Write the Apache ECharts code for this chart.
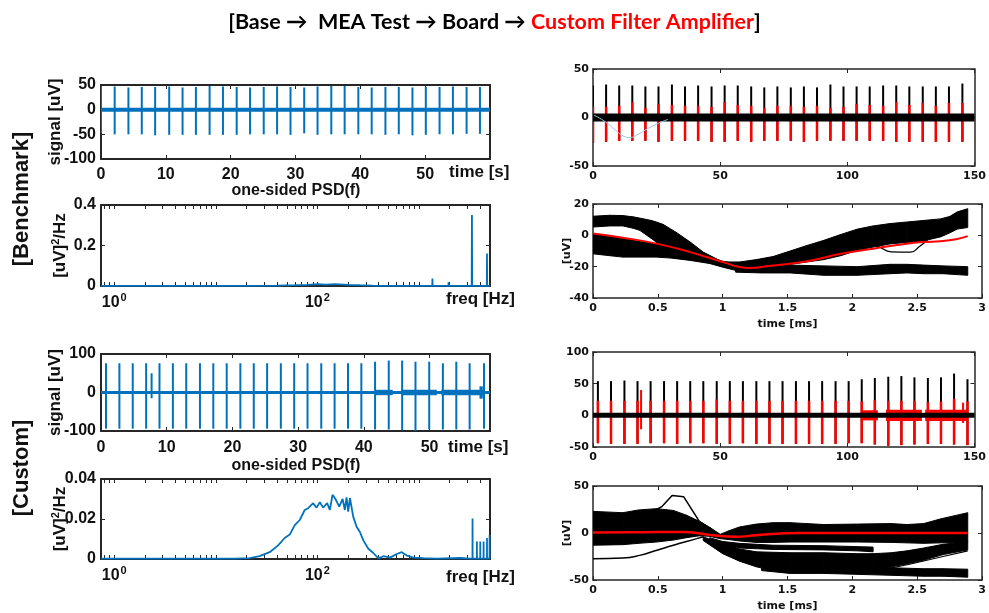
<!DOCTYPE html>
<html>
<head>
<meta charset="utf-8">
<script src="https://cdn.jsdelivr.net/npm/echarts@6.0.0/dist/echarts.min.js"></script>
<style>
  html, body { margin: 0; padding: 0; background: #fff; }
  #chart { width: 989px; height: 613px; }
</style>
</head>
<body>
<div id="chart"></div>
<script>
// ---------- left column: raw signal [uV] ----------
var benchSpan = [0, 60];
var benchSpikeT = [0, 2.11, 4.23, 6.29, 8.35, 10.52, 12.58, 14.64, 16.75, 18.81, 20.93, 22.99, 25.1, 27.16, 29.23,
  31.34, 33.4, 35.52, 37.58, 39.69, 41.75, 43.87, 45.93, 48.04, 50.1, 52.22, 54.28, 56.39, 58.45];
var benchSpikeTop = [47, 47, 45, 46, 46, 47, 45, 46, 48, 47, 46, 45, 46, 47, 46,
  45, 47, 48, 48, 46, 45, 46, 46, 45, 46, 46, 47, 46, 46];
var benchSpikeBot = [-48, -50, -50, -50, -52, -51, -51, -51, -51, -51, -51, -50, -50, -50, -51,
  -48, -51, -50, -50, -50, -50, -51, -50, -52, -51, -50, -50, -49, -49];

var custSpan = [0, 59.2];
var custSpikeT = [0.76, 2.8, 4.83, 6.87, 7.7, 8.9, 10.94, 12.97, 15.06, 17.09, 19.13, 21.21, 23.25, 25.28, 27.37,
  29.4, 31.43, 33.52, 35.55, 37.59, 39.62, 41.71, 43.79, 45.83, 47.86, 49.95, 52.03, 54.07, 56.1, 58.29];
var custSpikeTop = [76, 76, 76, 76, 50, 76, 76, 76, 76, 76, 76, 76, 76, 76, 76,
  76, 76, 76, 76, 76, 76, 80, 83, 83, 80, 80, 76, 80, 76, 76];
var custSpikeBot = [-94, -94, -94, -94, -15, -94, -94, -94, -94, -94, -94, -94, -94, -94, -94,
  -94, -94, -94, -94, -94, -94, -96, -96, -98, -100, -96, -96, -96, -96, -94];
// noisy stretches: [start s, end s, half amplitude uV]
var custNoise = [[41.7, 44.4, 7], [45.7, 51.1, 7], [51.8, 58.2, 7], [57.6, 58.1, 16]];

// ---------- left column: one-sided PSD [uV^2/Hz] ----------
var psdBench = [[0.74, 0.0003], [2, 0.0003], [5, 0.0004], [10, 0.0005], [20, 0.001], [40, 0.002], [60, 0.004],
  [80, 0.006], [100, 0.009], [120, 0.007], [150, 0.009], [200, 0.006], [260, 0.004], [350, 0.002], [500, 0.001],
  [800, 0.0008], [1350, 0.0008], [1356, 0.037], [1362, 0.0008], [1950, 0.0008], [1955, 0.019], [1960, 0.0008],
  [2900, 0.001], [2905, 0.005], [2910, 0.001], [3300, 0.001], [3320, 0.35], [3340, 0.001], [3900, 0.001],
  [3905, 0.006], [3910, 0.001], [4650, 0.001], [4670, 0.16], [4690, 0.001], [5000, 0.001]];
var psdCust = [[0.74, 0.0002], [5, 0.0002], [15, 0.0002], [21.5, 0.0004], [27, 0.0014], [33.9, 0.0034], [41, 0.0068],
  [47.6, 0.0105], [53.4, 0.0122], [59.8, 0.0169], [67, 0.0195], [75, 0.0245], [81, 0.0254], [90.8, 0.0279],
  [98, 0.0257], [105.6, 0.0284], [113.8, 0.0257], [124.7, 0.0279], [132.5, 0.0245], [140.8, 0.0321], [152, 0.0296],
  [164, 0.0262], [177, 0.0301], [186, 0.0245], [193.6, 0.0308], [201, 0.0237], [209, 0.0305], [225, 0.0212],
  [243, 0.0161], [262, 0.0135], [283, 0.0093], [317, 0.0051], [355, 0.003], [398, 0.0003], [446, 0.0014],
  [519, 0.0007], [604, 0.0025], [676, 0.0034], [758, 0.0017], [881, 0.0007], [1106, 0.0004], [1500, 0.0002],
  [2546, 0.0005], [3200, 0.0002], [3360, 0.0002], [3366, 0.0203], [3372, 0.0002], [3710, 0.0002], [3715, 0.0088],
  [3720, 0.0002], [4005, 0.0002], [4010, 0.0088], [4015, 0.0002], [4320, 0.0002], [4325, 0.0088], [4330, 0.0002],
  [4665, 0.0002], [4670, 0.0105], [4675, 0.0002], [4950, 0.0002], [4955, 0.012], [4960, 0.0002], [5000, 0.0002]];
var logTicks = [0.8, 0.9, 1, 2, 3, 4, 5, 6, 7, 8, 9, 10, 20, 30, 40, 50, 60, 70, 80, 90, 100,
  200, 300, 400, 500, 600, 700, 800, 900, 1000, 2000, 3000, 4000, 5000];

// ---------- right column: detected spikes ----------
var rasSpan = [0, 150];
var rasBenchT = [0, 5.15, 10.3, 15.45, 20.6, 25.75, 31.03, 36.18, 41.33, 46.61, 51.76, 56.91, 62.19, 67.34, 72.49,
  77.77, 82.92, 88.07, 93.34, 98.49, 103.64, 108.79, 114.07, 119.22, 124.37, 129.65, 134.8, 139.95, 145.23];
var rasBenchBlackTop = [33, 34, 33, 33, 32, 32, 34, 32, 33, 32, 33, 33, 32, 31, 32,
  31, 32, 31, 34, 32, 32, 32, 33, 33, 32, 32, 32, 32, 35];
var rasBenchRedTop = [11, 11, 12, 16, 10, 14, 13, 12, 12, 11, 16, 13, 12, 10, 12,
  12, 11, 12, 10, 11, 14, 13, 12, 16, 13, 15, 12, 15, 15];
var rasBenchRedBot = [-26, -25, -24, -24, -24, -25, -24, -24, -24, -25, -25, -24, -25, -24, -24,
  -24, -25, -24, -24, -24, -24, -24, -24, -25, -25, -25, -25, -25, -25];
var rasBenchDrift = [[0.4, 2.4], [4.9, -4.5], [8.8, -13], [12, -19.2], [14.5, -20.6], [17.8, -17.2],
  [21.6, -11.3], [25.5, -6.2], [29.4, -2]];

var rasCustT = [1.93, 7.08, 12.36, 17.5, 22.65, 27.93, 33.08, 38.22, 43.37, 48.65, 53.8, 58.94, 64.22, 69.37, 74.52,
  79.79, 84.94, 90.09, 95.37, 100.51, 105.66, 110.81, 116.09, 121.24, 126.38, 131.66, 136.81, 141.96, 147.23];
var rasCustBlackTop = [54, 54, 55, 54, 54, 54, 54, 54, 54, 54, 54, 54, 54, 54, 54,
  54, 54, 54, 54, 54, 57, 59, 61, 62, 60, 59, 60, 66, 57];
var rasCustRedTop = [23, 23, 23, 23, 23, 23, 23, 23, 23, 25, 23, 23, 23, 23, 23,
  23, 23, 23, 23, 23, 22, 24, 23, 23, 23, 21, 22, 26, 22];
var rasCustRedBot = [-44, -45, -45, -45, -44, -44, -45, -44, -44, -45, -45, -44, -45, -45, -45,
  -45, -45, -45, -45, -44, -44, -46, -48, -47, -46, -45, -45, -46, -47];
var rasCustExtra = [[18.9, -22, 40], [145.5, -12, 20]];
var rasCustNoise = [[105.3, 112.0, 8], [115.2, 129.3, 9], [130.6, 147.4, 9]];

// ---------- right column: overlaid waveforms, rows are [ms, upper uV, lower uV] ----------
var benchBandA = [[0, 12.2, 5.3], [0.13, 12.8, 6], [0.23, 12.6, 6], [0.31, 11.8, 4.5], [0.36, 11, 3.2],
  [0.45, 9.5, -2], [0.49, 8.5, -4.5], [0.54, 7, -6.5], [0.64, 2, -9], [0.75, -4.3, -12], [0.85, -10.7, -15],
  [1.0, -17, -19.5], [1.11, -19, -21.5]];
var benchBandB = [[0, 1, -11.8], [0.13, -0.8, -13], [0.23, -2, -13.9], [0.36, -4, -13.9], [0.49, -5.5, -13.9],
  [0.6, -7.5, -14.5], [0.75, -10.5, -16], [0.9, -14, -18], [1.0, -16.5, -20.3], [1.13, -18.5, -23], [1.2, -19.5, -23.5]];
var benchBandC = [[1.0, -17, -20], [1.13, -17, -21], [1.26, -15.5, -21], [1.39, -13.5, -20], [1.52, -10, -18.5],
  [1.65, -6.5, -17], [1.78, -3.2, -15.5], [1.91, 0.5, -13], [2.04, 4, -9.5], [2.16, 6, -7.5], [2.29, 7.5, -5.5],
  [2.42, 8.5, -4.5], [2.55, 9.5, -3.5], [2.68, 10.5, -1], [2.75, 12, 1.5], [2.81, 15, 4], [2.89, 17, 5]];
var benchBandD = [[1.1, -18.5, -23.5], [1.3, -19.5, -24], [1.52, -19, -24], [1.78, -19.5, -25.5], [2.04, -20, -25.5],
  [2.29, -18.5, -24.5], [2.42, -18.5, -24], [2.55, -19, -24.5], [2.7, -19.5, -24.5], [2.89, -20, -25.5]];
var benchTrace = [[2.1, -4], [2.2, -7], [2.3, -10.5], [2.45, -10.7], [2.52, -7], [2.58, -3]];
var benchMean = [[0, 1.1], [0.23, -1.5], [0.49, -5.3], [0.75, -10.7], [1.0, -17], [1.19, -20.8], [1.39, -19.2],
  [1.65, -16.5], [1.91, -11.8], [2.16, -8.5], [2.42, -5.3], [2.55, -4.3], [2.68, -3.8], [2.8, -2.5], [2.89, -0.5]];

var custBandM = [[0, 23, -13], [0.23, 21.6, -12.4], [0.35, 24.5, -11], [0.49, 25.9, -9.6], [0.62, 24, -7.5],
  [0.72, 19, -5], [0.82, 12.4, -3], [0.9, 6, -3.5], [0.98, -1.5, -6], [1.05, 2.5, -7], [1.13, 6.4, -8.5],
  [1.26, 9.5, -10], [1.39, 11, -10], [1.52, 11, -9.6], [1.78, 9, -9.6], [2.04, 9.5, -9.6], [2.3, 10, -10],
  [2.42, 9, -10.5], [2.55, 10, -11], [2.68, 15, -10.5], [2.89, 21.6, -9.6]];
var custBandL1 = [[0.9, -5, -9], [1.0, -9, -14], [1.13, -11, -16], [1.39, -13, -17.5], [1.78, -13.5, -18],
  [2.04, -14.5, -19], [2.16, -15, -20]];
var custBandL2 = [[0.85, -4, -8], [1.0, -12, -22], [1.13, -17, -30], [1.26, -20, -36], [1.39, -20.5, -40],
  [1.52, -21, -42], [1.78, -21, -41], [2.04, -22, -40], [2.16, -22, -39], [2.3, -21, -36], [2.42, -19, -33],
  [2.55, -16, -29], [2.7, -12, -23], [2.89, -9, -18]];
var custBandL3 = [[1.3, -33, -40], [1.52, -36, -43], [1.78, -36, -43], [2.04, -36, -44], [2.3, -37, -45],
  [2.55, -38, -46], [2.7, -38, -46], [2.89, -38.5, -47]];
var custTraceUp = [[0.49, 25], [0.53, 28], [0.61, 40], [0.7, 38.5], [0.82, 12.4], [0.98, -2]];
var custTraceLow = [[0, -27.3], [0.23, -26.6], [0.36, -23.8], [0.5, -18], [0.62, -13], [0.8, -6], [0.85, -4]];
var custTraceDiag = [[2.16, -34], [2.4, -27], [2.6, -20], [2.89, -9]];
var custTraceDiag2 = [[2.2, -40], [2.45, -33], [2.7, -25], [2.89, -19]];
var custMean = [[0, 0.5], [0.3, 0.7], [0.5, 1], [0.7, 1], [0.8, 0], [0.9, -2], [1.0, -3.5], [1.1, -4], [1.2, -3.2],
  [1.3, -1.8], [1.45, -0.5], [1.6, 0], [2.0, 0], [2.5, 0], [2.89, 0]];

// ---------- styling ----------
var BLUE = '#0072BD', RED = '#ff0000', AX = '#262626';
var leftFont = {fontFamily: 'Liberation Sans', fontWeight: 'bold', fontSize: 16, color: '#111'};
var rightFont = {fontFamily: 'DejaVu Sans', fontWeight: 'bold', fontSize: 11, color: '#111'};
var supRich = {s: {fontFamily: 'Liberation Sans', fontWeight: 'bold', fontSize: 11, color: '#111', padding: [0, 0, 10, 1]}};
var nameRich = {
  a: {fontFamily: 'Liberation Sans', fontWeight: 'bold', fontSize: 17, color: '#111'},
  s: {fontFamily: 'Liberation Sans', fontWeight: 'bold', fontSize: 11, color: '#111', padding: [0, 0, 10, 0]}
};

var grids = [], xAxes = [], yAxes = [], series = [];

function makeAxis(g, pos, main, o, lw, font) {
  var a = {
    gridIndex: g, position: pos, type: o.type || 'value',
    min: o.min, max: o.max, interval: o.interval,
    axisLine: {show: true, onZero: false, lineStyle: {color: AX, width: lw}},
    axisTick: {show: true, inside: true, length: 4, lineStyle: {color: AX, width: 1}},
    axisLabel: Object.assign({show: main, margin: o.margin || 6}, font),
    splitLine: {show: false}
  };
  if (o.formatter) a.axisLabel.formatter = o.formatter;
  if (o.rich) a.axisLabel.rich = o.rich;
  if (o.ticks) a.axisTick.customValues = o.ticks;
  if (main && o.name) {
    a.name = o.name;
    a.nameLocation = 'middle';
    a.nameGap = o.nameGap;
    a.nameMoveOverlap = false;
    a.nameTextStyle = o.nameStyle;
  }
  return a;
}

function panel(rect, xo, yo, big) {
  var g = grids.length;
  var lw = big ? 2 : 1.5;
  var font = big ? leftFont : rightFont;
  grids.push({left: rect[0], top: rect[1], width: rect[2], height: rect[3]});
  xAxes.push(makeAxis(g, 'bottom', true, xo, lw, font));
  xAxes.push(makeAxis(g, 'top', false, xo, lw, font));
  yAxes.push(makeAxis(g, 'left', true, yo, lw, font));
  yAxes.push(makeAxis(g, 'right', false, yo, lw, font));
  return g;
}

function addLine(g, data, color, width, smooth) {
  series.push({
    type: 'line', xAxisIndex: 2 * g, yAxisIndex: 2 * g, data: data,
    showSymbol: false, symbol: 'none', smooth: smooth || false, silent: true,
    lineStyle: {color: color, width: width}
  });
}

// vertical strokes, rows [x, low, high]
function addSegs(g, rows, color, width) {
  series.push({
    type: 'custom', xAxisIndex: 2 * g, yAxisIndex: 2 * g, clip: true, silent: true, data: rows,
    renderItem: function (params, api) {
      var a = api.coord([api.value(0), api.value(1)]);
      var b = api.coord([api.value(0), api.value(2)]);
      return {type: 'line', shape: {x1: a[0], y1: a[1], x2: b[0], y2: b[1]},
        style: {stroke: color, lineWidth: width}};
    }
  });
}

// noisy stretches drawn as filled blocks, rows [x0, x1, halfAmp]
function addBursts(g, rows, color) {
  series.push({
    type: 'custom', xAxisIndex: 2 * g, yAxisIndex: 2 * g, clip: true, silent: true, data: rows,
    renderItem: function (params, api) {
      var a = api.coord([api.value(0), api.value(2)]);
      var b = api.coord([api.value(1), -api.value(2)]);
      return {type: 'rect', shape: {x: a[0], y: a[1], width: b[0] - a[0], height: b[1] - a[1]},
        style: {fill: color}};
    }
  });
}

// envelope of many overlaid traces, rows [x, upper, lower]
function addBand(g, rows, color) {
  series.push({
    type: 'custom', xAxisIndex: 2 * g, yAxisIndex: 2 * g, clip: true, silent: true, data: rows,
    renderItem: function (params, api) {
      var i = params.dataIndex;
      if (i >= rows.length - 1) return;
      var p = rows[i], q = rows[i + 1];
      var pts = [api.coord([p[0], p[1]]), api.coord([q[0], q[1]]), api.coord([q[0], q[2]]), api.coord([p[0], p[2]])];
      return {type: 'polygon', shape: {points: pts}, style: {fill: color, stroke: color, lineWidth: 1}};
    }
  });
}

function zip3(t, lo, hi) {
  return t.map(function (v, i) { return [v, lo[i], hi[i]]; });
}
function flat(span) {
  return span.map(function (v) { return [v, 0]; });
}

var timeFmt = function (v) { return v <= 50 && v % 10 === 0 ? String(v) : ''; };
var logFmt = function (v) {
  var e = Math.round(Math.log(v) / Math.LN10);
  if (Math.abs(v - Math.pow(10, e)) > 1e-6 * v) return '';
  return (e === 0 || e === 2) ? '10{s|' + e + '}' : '';
};
var nameBig = {fontFamily: 'Liberation Sans', fontWeight: 'bold', fontSize: 17, color: '#111'};
var nameSmall = {fontFamily: 'DejaVu Sans', fontWeight: 'bold', fontSize: 11, color: '#111'};
var psdName = '{a|[uV]}{s|2}{a|/Hz}';

// ---------- panels ----------
var g1 = panel([101, 85, 389, 74],
  {min: 0, max: 60, interval: 10, formatter: timeFmt, margin: 8},
  {min: -100, max: 50, interval: 50, margin: 5, name: 'signal [uV]', nameGap: 37, nameStyle: nameBig}, true);
addLine(g1, flat(benchSpan), BLUE, 4);
addSegs(g1, zip3(benchSpikeT, benchSpikeBot, benchSpikeTop), BLUE, 2);

var g2 = panel([101, 205, 389, 81],
  {type: 'log', min: 0.74, max: 5000, formatter: logFmt, rich: supRich, ticks: logTicks, margin: 6},
  {min: 0, max: 0.4, interval: 0.2, margin: 5, name: psdName, nameGap: 30, nameStyle: {rich: nameRich}}, true);
addLine(g2, psdBench, BLUE, 1.8);

var g3 = panel([101, 354, 389, 77],
  {min: 0, max: 59.2, interval: 10, formatter: timeFmt, margin: 9},
  {min: -100, max: 100, interval: 100, margin: 5, name: 'signal [uV]', nameGap: 37, nameStyle: nameBig}, true);
addLine(g3, flat(custSpan), BLUE, 3);
addBursts(g3, custNoise, BLUE);
addSegs(g3, zip3(custSpikeT, custSpikeBot, custSpikeTop), BLUE, 2);

var g4 = panel([101, 479, 389, 80],
  {type: 'log', min: 0.74, max: 5000, formatter: logFmt, rich: supRich, ticks: logTicks, margin: 6},
  {min: 0, max: 0.04, interval: 0.02, margin: 5, name: psdName, nameGap: 30, nameStyle: {rich: nameRich}}, true);
addLine(g4, psdCust, BLUE, 1.8);

var g5 = panel([593, 69, 389, 97],
  {min: 0, max: 150, interval: 50, margin: 5},
  {min: -50, max: 50, interval: 50, margin: 4}, false);
addLine(g5, flat(rasSpan), '#000', 8);
addSegs(g5, zip3(rasBenchT, rasBenchRedBot, rasBenchBlackTop), '#000', 2);
addSegs(g5, zip3(rasBenchT, rasBenchRedBot, rasBenchRedTop), RED, 2.5);
addLine(g5, rasBenchDrift, '#9cc7ea', 1, true);

var g6 = panel([593, 204, 389, 94],
  {min: 0, max: 3, interval: 0.5, margin: 5, name: 'time [ms]', nameGap: 21, nameStyle: nameSmall},
  {min: -40, max: 20, interval: 20, margin: 4, name: '[uV]', nameGap: 20, nameStyle: nameSmall}, false);
addBand(g6, benchBandA, '#000');
addBand(g6, benchBandB, '#000');
addBand(g6, benchBandC, '#000');
addBand(g6, benchBandD, '#000');
addLine(g6, benchTrace, '#000', 1.3, true);
addLine(g6, benchMean, RED, 2, true);

var g7 = panel([593, 352, 389, 95],
  {min: 0, max: 150, interval: 50, margin: 5},
  {min: -50, max: 100, interval: 50, margin: 4}, false);
addLine(g7, flat(rasSpan), '#000', 5);
addSegs(g7, zip3(rasCustT, rasCustRedBot, rasCustBlackTop), '#000', 2);
addBursts(g7, rasCustNoise, RED);
addSegs(g7, zip3(rasCustT, rasCustRedBot, rasCustRedTop), RED, 2.5);
addSegs(g7, rasCustExtra, RED, 2);

var g8 = panel([593, 486, 389, 94],
  {min: 0, max: 3, interval: 0.5, margin: 5, name: 'time [ms]', nameGap: 21, nameStyle: nameSmall},
  {min: -50, max: 50, interval: 50, margin: 4, name: '[uV]', nameGap: 20, nameStyle: nameSmall}, false);
addBand(g8, custBandM, '#000');
addBand(g8, custBandL1, '#000');
addBand(g8, custBandL2, '#000');
addBand(g8, custBandL3, '#000');
addLine(g8, custTraceUp, '#000', 1.5);
addLine(g8, custTraceLow, '#000', 1.5, true);
addLine(g8, custTraceDiag, '#000', 1.2);
addLine(g8, custTraceDiag2, '#000', 1.2);
addLine(g8, custMean, RED, 2.5, true);

// ---------- free text ----------
function txt(x, y, s, font, align, rot) {
  return {
    type: 'text', x: x, y: y, rotation: rot || 0, silent: true,
    style: {text: s, font: font, fill: '#111', align: align || 'center', verticalAlign: 'middle'}
  };
}
var F17 = 'bold 17px "Liberation Sans"', F16 = 'bold 16px "Liberation Sans"';
var graphics = [
  txt(22, 199, '[Benchmark]', 'bold 22px "Liberation Sans"', 'center', Math.PI / 2),
  txt(22, 468, '[Custom]', 'bold 22px "Liberation Sans"', 'center', Math.PI / 2),
  txt(449, 172, 'time [s]', F17, 'left'),
  txt(296, 191, 'one-sided PSD(f)', F16),
  txt(446, 299, 'freq [Hz]', F17, 'left'),
  txt(448, 447, 'time [s]', F17, 'left'),
  txt(296, 466, 'one-sided PSD(f)', F16),
  txt(446, 577, 'freq [Hz]', F17, 'left')
];

var titleFont = {fontFamily: 'Lato', fontWeight: 'bold', fontSize: 21.5};
var option = {
  animation: false,
  backgroundColor: '#fff',
  title: {
    text: '{k|[Base \u2192  MEA Test \u2192 Board \u2192 }{r|Custom Filter Amplifier}{k|]}',
    left: 'center', top: 6,
    textStyle: {rich: {
      k: Object.assign({color: '#000'}, titleFont),
      r: Object.assign({color: RED}, titleFont)
    }}
  },
  grid: grids,
  xAxis: xAxes,
  yAxis: yAxes,
  series: series,
  graphic: graphics
};

var chart = echarts.init(document.getElementById('chart'));
chart.setOption(option);
</script>
</body>
</html>
